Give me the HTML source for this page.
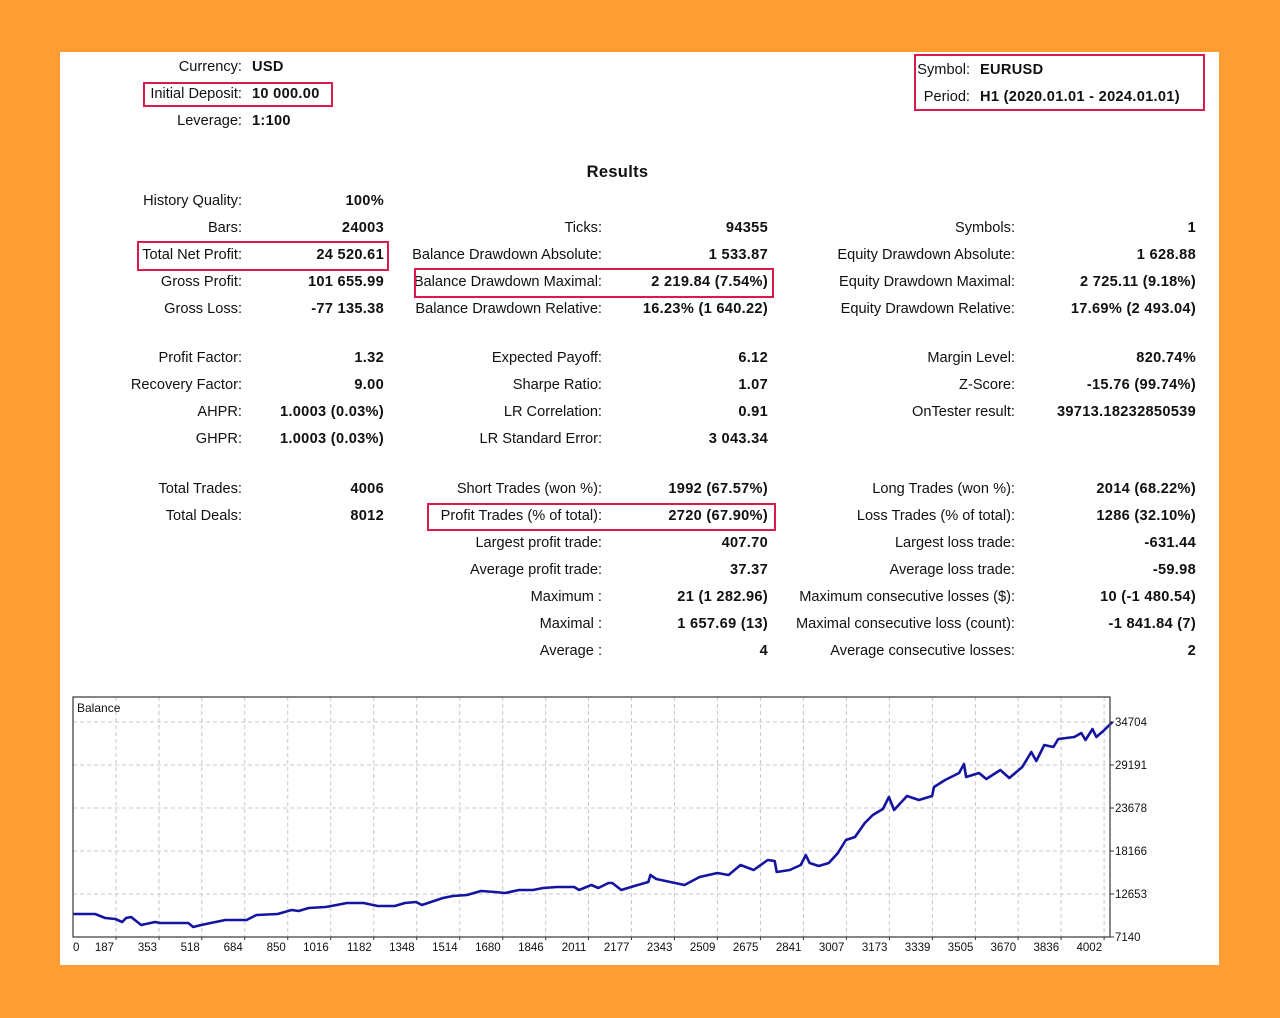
<!DOCTYPE html>
<html><head><meta charset="utf-8">
<style>
html,body{margin:0;padding:0}
body{width:1280px;height:1018px;background:#FF9C33;position:relative;overflow:hidden;font-family:"Liberation Sans",Arial,sans-serif;color:#111}
#panel{position:absolute;left:60px;top:52px;width:1159px;height:913px;background:#fff}
.t{position:absolute;font-size:14.6px;line-height:18px;white-space:nowrap}
.l{text-align:right}
.b{font-weight:bold;letter-spacing:0.3px}
.box{position:absolute;border:2px solid #D81B4A;box-sizing:border-box}
</style></head><body>
<div id="panel"></div>
<div id="txt"></div>

<div class="box" style="left:143px;top:82px;width:190px;height:25px"></div>
<div class="box" style="left:914px;top:54px;width:291px;height:57px"></div>
<div class="box" style="left:137px;top:241px;width:252px;height:30px"></div>
<div class="box" style="left:414px;top:268px;width:360px;height:30px"></div>
<div class="box" style="left:427px;top:503px;width:349px;height:28px"></div>

<div class="t b" style="left:560px;top:163px;width:115px;text-align:center;font-size:16.5px">Results</div>

<svg id="chart" width="1280" height="1018" style="position:absolute;left:0;top:0" xmlns="http://www.w3.org/2000/svg"></svg>

<script>
const rows = [
 [242,252,'l',58,'Currency:','USD'],
 [242,252,'l',85,'Initial Deposit:','10 000.00'],
 [242,252,'l',112,'Leverage:','1:100'],
 [970,980,'l',61,'Symbol:','EURUSD'],
 [970,980,'l',88,'Period:','H1 (2020.01.01 - 2024.01.01)'],
 [242,384,'r',192,'History Quality:','100%'],
 [242,384,'r',219,'Bars:','24003'],
 [242,384,'r',246,'Total Net Profit:','24 520.61'],
 [242,384,'r',273,'Gross Profit:','101 655.99'],
 [242,384,'r',300,'Gross Loss:','-77 135.38'],
 [602,768,'r',219,'Ticks:','94355'],
 [602,768,'r',246,'Balance Drawdown Absolute:','1 533.87'],
 [602,768,'r',273,'Balance Drawdown Maximal:','2 219.84 (7.54%)'],
 [602,768,'r',300,'Balance Drawdown Relative:','16.23% (1 640.22)'],
 [1015,1196,'r',219,'Symbols:','1'],
 [1015,1196,'r',246,'Equity Drawdown Absolute:','1 628.88'],
 [1015,1196,'r',273,'Equity Drawdown Maximal:','2 725.11 (9.18%)'],
 [1015,1196,'r',300,'Equity Drawdown Relative:','17.69% (2 493.04)'],
 [242,384,'r',349,'Profit Factor:','1.32'],
 [242,384,'r',376,'Recovery Factor:','9.00'],
 [242,384,'r',403,'AHPR:','1.0003 (0.03%)'],
 [242,384,'r',430,'GHPR:','1.0003 (0.03%)'],
 [602,768,'r',349,'Expected Payoff:','6.12'],
 [602,768,'r',376,'Sharpe Ratio:','1.07'],
 [602,768,'r',403,'LR Correlation:','0.91'],
 [602,768,'r',430,'LR Standard Error:','3 043.34'],
 [1015,1196,'r',349,'Margin Level:','820.74%'],
 [1015,1196,'r',376,'Z-Score:','-15.76 (99.74%)'],
 [1015,1196,'r',403,'OnTester result:','39713.18232850539'],
 [242,384,'r',480,'Total Trades:','4006'],
 [242,384,'r',507,'Total Deals:','8012'],
 [602,768,'r',480,'Short Trades (won %):','1992 (67.57%)'],
 [602,768,'r',507,'Profit Trades (% of total):','2720 (67.90%)'],
 [602,768,'r',534,'Largest profit trade:','407.70'],
 [602,768,'r',561,'Average profit trade:','37.37'],
 [602,768,'r',588,'Maximum :','21 (1 282.96)'],
 [602,768,'r',615,'Maximal :','1 657.69 (13)'],
 [602,768,'r',642,'Average :','4'],
 [1015,1196,'r',480,'Long Trades (won %):','2014 (68.22%)'],
 [1015,1196,'r',507,'Loss Trades (% of total):','1286 (32.10%)'],
 [1015,1196,'r',534,'Largest loss trade:','-631.44'],
 [1015,1196,'r',561,'Average loss trade:','-59.98'],
 [1015,1196,'r',588,'Maximum consecutive losses ($):','10 (-1 480.54)'],
 [1015,1196,'r',615,'Maximal consecutive loss (count):','-1 841.84 (7)'],
 [1015,1196,'r',642,'Average consecutive losses:','2']
];
const txt = document.getElementById('txt');
rows.forEach(r => {
  const key = r[4].toLowerCase().replace(/[^a-z0-9]+/g,'-').replace(/^-|-$/g,'');
  const lab = document.createElement('div');
  lab.className = 't l';
  lab.style.cssText = 'right:' + (1280 - r[0]) + 'px;top:' + r[3] + 'px';
  lab.textContent = r[4];
  
  
  txt.appendChild(lab);
  const val = document.createElement('div');
  val.className = 't b';
  if (r[2] === 'r') val.style.cssText = 'right:' + (1280 - r[1]) + 'px;top:' + r[3] + 'px;text-align:right';
  else val.style.cssText = 'left:' + r[1] + 'px;top:' + r[3] + 'px';
  val.textContent = r[5];
  
  
  txt.appendChild(val);
});
</script>

<script>
const tradeIdx = [21,106,145,184,211,226,245,284,338,358,412,466,485,516,571,609,663,691,729,811,865,892,931,996,1039,1078,1143,1197,1263,1302,1345,1368,1449,1488,1542,1596,1650,1689,1743,1797,1836,1890,1956,1975,2022,2049,2088,2103,2138,2188,2242,2250,2273,2327,2382,2440,2509,2552,2598,2649,2703,2730,2738,2788,2831,2850,2865,2900,2939,2974,3005,3040,3078,3109,3148,3171,3191,3241,3287,3338,3345,3388,3442,3461,3469,3519,3547,3601,3636,3686,3721,3740,3771,3806,3825,3887,3914,3930,3957,3972,3999,4034];
const balance = [10089,10089,9576,9448,9063,9576,9704,8678,9063,8935,8935,8935,8422,8678,9063,9319,9319,9319,9960,10089,10601,10473,10858,10986,11242,11499,11499,11114,11114,11499,11627,11242,12140,12396,12524,13037,12909,12781,13165,13165,13422,13550,13550,13165,13806,13422,14063,14063,13165,13678,14191,15088,14576,14191,13806,14832,15345,15088,16370,15729,17011,16883,15473,15729,16370,17652,16627,16242,16627,17909,19575,19960,21755,22780,23550,25088,23421,25216,24703,25216,26370,27267,28165,29319,27652,28165,27395,28550,27524,28934,30857,29703,31754,31498,32524,32780,33293,32396,33806,32780,33550,34704];
const xTicks = [0,187,353,518,684,850,1016,1182,1348,1514,1680,1846,2011,2177,2343,2509,2675,2841,3007,3173,3339,3505,3670,3836,4002];
const yTicks = [7140,12653,18166,23678,29191,34704];

const NS = 'http://www.w3.org/2000/svg';
const svg = document.getElementById('chart');
const L = 73, R = 1110, T = 697, B = 937;
const xScale = v => 67.6 + v * 0.259;
const yScale = v => B - (v - 7140) * (B - 722) / (34704 - 7140);
function mk(tag, attrs) { const e = document.createElementNS(NS, tag); for (const k in attrs) e.setAttribute(k, attrs[k]); svg.appendChild(e); return e; }

const bg = mk('rect', {x:L, y:T, width:R-L, height:B-T, fill:'#fff'});



yTicks.forEach(v => {
  const y = yScale(v);
  if (v !== 7140) {
    const g = mk('line', {x1:L, x2:R, y1:y, y2:y, stroke:'#c8c8c8', 'stroke-dasharray':'4,3'});
    
    
  }
  mk('line', {x1:R, x2:R+4, y1:y, y2:y, stroke:'#333'});
  const t = mk('text', {x:R+5, y:y+4, 'font-size':11.5, 'font-family':'Liberation Sans, sans-serif', fill:'#111'});
  t.textContent = v;
  
  
});
xTicks.forEach(v => {
  const x = xScale(v);
  if (v !== 0) {
    const g = mk('line', {x1:x, x2:x, y1:T, y2:B, stroke:'#c8c8c8', 'stroke-dasharray':'4,3'});
    
    
    mk('line', {x1:x, x2:x, y1:B, y2:B+3, stroke:'#333'});
  }
  const t = mk('text', {x: v === 0 ? 73 : x - 2, y:951, 'font-size':11.5, 'font-family':'Liberation Sans, sans-serif', fill:'#111', 'text-anchor': v === 0 ? 'start' : 'end'});
  t.textContent = v;
  
  
});

let d = '';
tradeIdx.forEach((v, i) => { d += (i ? 'L' : 'M') + xScale(v).toFixed(1) + ',' + yScale(balance[i]).toFixed(1); });
const line = mk('path', {d:d, fill:'none', stroke:'#1414A0', 'stroke-width':2.6, 'stroke-linejoin':'round'});



const border = mk('rect', {x:L, y:T, width:R-L, height:B-T, fill:'none', stroke:'#444', 'stroke-width':1.3});



const title = mk('text', {x:77, y:712, 'font-size':12, 'font-family':'Liberation Sans, sans-serif', fill:'#111'});
title.textContent = 'Balance';


</script>
</body></html>
